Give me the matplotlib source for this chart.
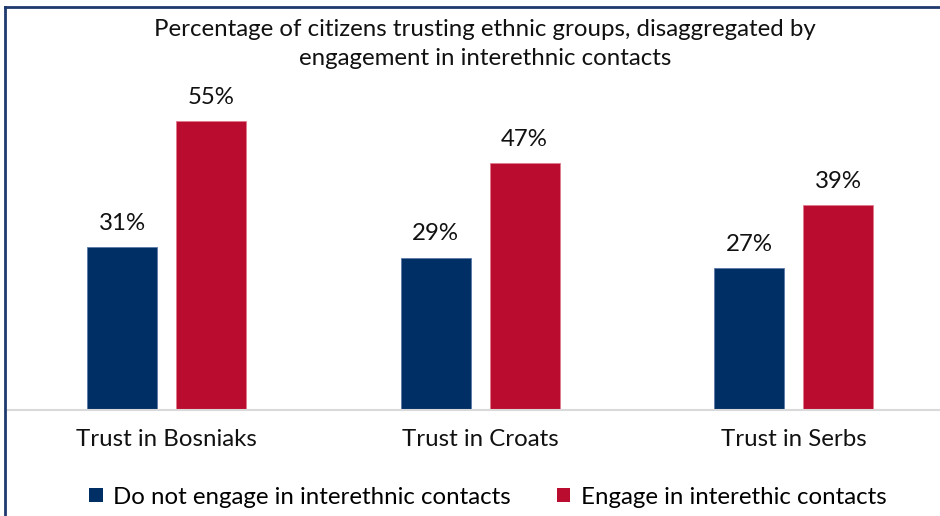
import matplotlib
matplotlib.use("Agg")
import matplotlib.pyplot as plt
import numpy as np
from matplotlib.lines import Line2D
from matplotlib.patches import Patch

categories = ["Trust in Bosniaks", "Trust in Croats", "Trust in Serbs"]
no_contact = [31, 29, 27]
contact = [55, 47, 39]
series_names = ["Do not engage in interethnic contacts", "Engage in interethic contacts"]
title = "Percentage of citizens trusting ethnic groups, disaggregated by\nengagement in interethnic contacts"

navy = "#002F66"
crimson = "#BA0C2F"

plt.rcParams["font.family"] = ["Lato", "DejaVu Sans"]
FS = 17.3

W, H = 940, 516
fig = plt.figure(figsize=(W / 100, H / 100), dpi=100)

# axes placed in pixel terms: baseline at y=410, top at y=80
ax = fig.add_axes([8 / W, (H - 410) / H, (940 - 8) / W, 330 / H])
x = np.arange(len(categories))
bw = 0.223
off = 0.142
b1 = ax.bar(x - off, no_contact, bw, color=navy, edgecolor="#5a78a8", linewidth=0.6)
b2 = ax.bar(x + off, contact, bw, color=crimson, edgecolor="#e07a8c", linewidth=0.6)

for bars, vals in ((b1, no_contact), (b2, contact)):
    for r, v in zip(bars, vals):
        ax.text(r.get_x() + r.get_width() / 2, v + 2.6, f"{v}%",
                ha="center", va="bottom", fontsize=FS, color="#111111")

ax.set_xlim(-0.506, 2.467)
ax.set_ylim(0, 62.86)
ax.set_xticks(x)
ax.set_xticklabels(categories, fontsize=FS, color="#111111")
ax.tick_params(axis="x", length=0, pad=14)
ax.set_yticks([])
for s in ("top", "right", "left"):
    ax.spines[s].set_visible(False)
ax.spines["bottom"].set_color("#d9d9d9")
ax.spines["bottom"].set_linewidth(1.5)

fig.text(485 / W, 1 - 44 / H, title, ha="center", va="center", fontsize=FS,
         color="#111111", linespacing=1.5)

handles = [Patch(facecolor=navy), Patch(facecolor=crimson)]
fig.legend(handles, series_names, loc="center", bbox_to_anchor=(488 / W, 1 - 497 / H),
           ncol=2, frameon=False, fontsize=FS, handlelength=0.55, handleheight=0.55,
           handletextpad=0.45, columnspacing=1.9)

# frame lines along the top and left edges
fig.add_artist(Line2D([5 / W, 1], [1 - 7 / H, 1 - 7 / H], color="#1F3A6E", lw=2,
                      transform=fig.transFigure))
fig.add_artist(Line2D([5 / W, 5 / W], [0, 1 - 7 / H], color="#1F3A6E", lw=2,
                      transform=fig.transFigure))

fig.savefig("out.png", dpi=100)
